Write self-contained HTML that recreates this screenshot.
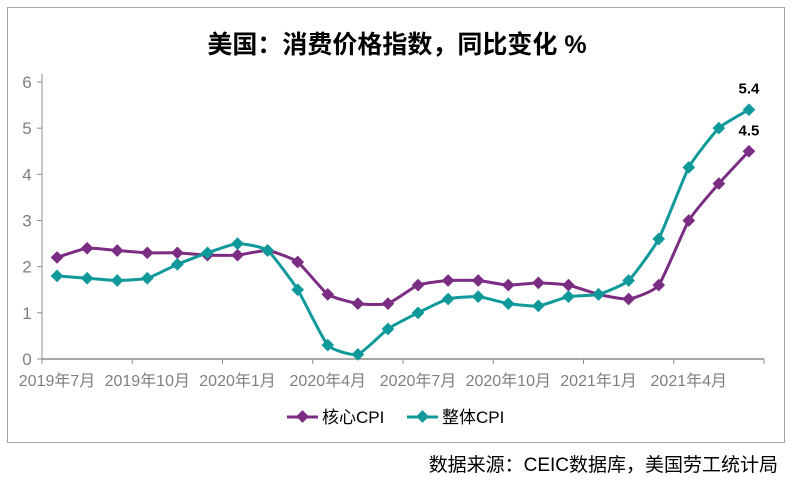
<!DOCTYPE html>
<html><head><meta charset="utf-8"><style>
body{margin:0;background:#fff;font-family:"Liberation Sans","Noto Sans CJK SC",sans-serif;}
</style></head><body>
<svg width="797" height="490" viewBox="0 0 797 490" font-family="Liberation Sans, Noto Sans CJK SC, sans-serif">
<rect x="7.5" y="7.5" width="777" height="435" fill="#fff" stroke="#a6a6a6"/>
<text x="397" y="53" text-anchor="middle" font-size="25" font-weight="bold" fill="#000">美国：消费价格指数，同比变化 %</text>
<g id="axes"></g>
<g id="series"></g>
<g>
<line x1="287" y1="417" x2="318" y2="417" stroke="#7b2c83" stroke-width="3"/>
<rect x="298" y="412" width="9" height="9" fill="#7b2c83" transform="rotate(45 302.5 416.5)"/>
<text x="322" y="423" font-size="17" fill="#000">核心CPI</text>
<line x1="407" y1="417" x2="438" y2="417" stroke="#10999a" stroke-width="3"/>
<rect x="418" y="412" width="9" height="9" fill="#10999a" transform="rotate(45 422.5 416.5)"/>
<text x="442" y="423" font-size="17" fill="#000">整体CPI</text>
</g>
<text x="778" y="471" text-anchor="end" font-size="19" fill="#000">数据来源：CEIC数据库，美国劳工统计局</text>
</svg>
<script>
const months = ["2019-07","2019-08","2019-09","2019-10","2019-11","2019-12","2020-01","2020-02","2020-03","2020-04","2020-05","2020-06","2020-07","2020-08","2020-09","2020-10","2020-11","2020-12","2021-01","2021-02","2021-03","2021-04","2021-05","2021-06"];
const coreCPI = [2.2,2.4,2.35,2.3,2.3,2.25,2.25,2.35,2.1,1.4,1.2,1.2,1.6,1.7,1.7,1.6,1.65,1.6,1.4,1.3,1.6,3.0,3.8,4.5];
const headlineCPI = [1.8,1.75,1.7,1.75,2.05,2.3,2.5,2.35,1.5,0.3,0.1,0.65,1.0,1.3,1.35,1.2,1.15,1.35,1.4,1.7,2.6,4.15,5.0,5.4];
const yTicks = [0,1,2,3,4,5,6];
const xLabels = ["2019年7月","2019年10月","2020年1月","2020年4月","2020年7月","2020年10月","2021年1月","2021年4月"];
const NS="http://www.w3.org/2000/svg";
const X0=42,X1=764,Y0=359,Y6=82;
const step=(X1-X0)/months.length;
const xPos=i=>X0+step*(i+0.5);
const yPos=v=>Y0-(Y0-Y6)*v/6;
function mk(t,a,p){const e=document.createElementNS(NS,t);for(const k in a)e.setAttribute(k,a[k]);p.appendChild(e);return e;}
const ax=document.getElementById('axes');
mk('line',{x1:X0,y1:Y6-8,x2:X0,y2:Y0,stroke:'#8c8c8c','stroke-width':1},ax);
mk('line',{x1:X0,y1:Y0,x2:X1,y2:Y0,stroke:'#8c8c8c','stroke-width':1.5},ax);
yTicks.forEach(v=>{
  const t=mk('text',{x:27,y:yPos(v)+6,'text-anchor':'middle','font-size':17,fill:'#7f7f7f'},ax);
  t.textContent=v;
  
  
  mk('line',{x1:X0-5,y1:yPos(v),x2:X0,y2:yPos(v),stroke:'#8c8c8c'},ax);
});
for(let i=0;i<=months.length;i+=3){mk('line',{x1:X0+step*i,y1:Y0,x2:X0+step*i,y2:Y0+5,stroke:'#8c8c8c'},ax);}
xLabels.forEach((l,k)=>{
  const t=mk('text',{x:xPos(k*3),y:Y0+27,'text-anchor':'middle','font-size':16,fill:'#7f7f7f'},ax);
  t.textContent=l;
  
  
});
const sg=document.getElementById('series');
function smooth(pts){const k=12;let d=`M${pts[0][0]},${pts[0][1]}`;for(let i=0;i<pts.length-1;i++){const p0=pts[i-1]||pts[i],p1=pts[i],p2=pts[i+1],p3=pts[i+2]||p2;const c1=[p1[0]+(p2[0]-p0[0])/k,p1[1]+(p2[1]-p0[1])/k],c2=[p2[0]-(p3[0]-p1[0])/k,p2[1]-(p3[1]-p1[1])/k];d+=`C${c1[0]},${c1[1]} ${c2[0]},${c2[1]} ${p2[0]},${p2[1]}`;}return d;}
function draw(vals,color,name){
  const g=mk('g',{},sg);
  
  
  const pts=vals.map((v,i)=>[xPos(i),yPos(v)]);
  mk('path',{d:smooth(pts),fill:'none',stroke:color,'stroke-width':3,'stroke-linejoin':'round'},g);
  pts.forEach(p=>{const r=mk('rect',{x:p[0]-4.5,y:p[1]-4.5,width:9,height:9,fill:color,transform:`rotate(45 ${p[0]} ${p[1]})`},g);
    
    });
  const last=vals.length-1;
  const t=mk('text',{x:xPos(last),y:yPos(vals[last])-16,'text-anchor':'middle','font-size':15,'font-weight':'bold',fill:'#000'},g);
  t.textContent=vals[last].toFixed(1);
  
  
}
draw(coreCPI,'#7b2c83','core-cpi-series');
draw(headlineCPI,'#10999a','headline-cpi-series');
</script>
</body></html>
